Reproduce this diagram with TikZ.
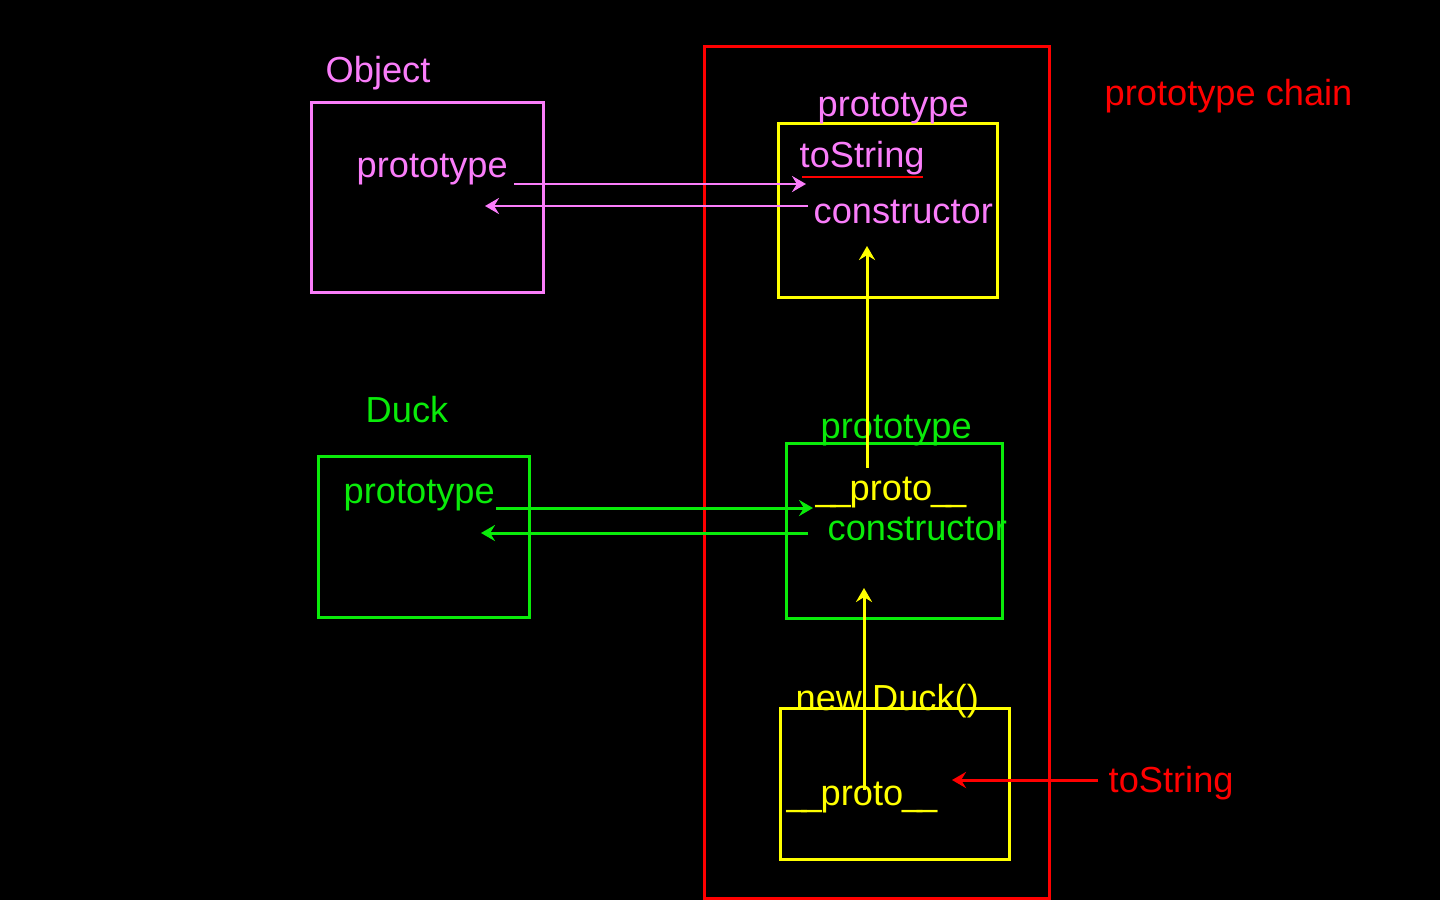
\documentclass[tikz,border=0pt]{standalone}
\usepackage{fontspec}
\setmainfont{Liberation Sans}
\usetikzlibrary{arrows.meta}

\definecolor{objpink}{RGB}{250,125,250}
\definecolor{duckgreen}{RGB}{10,235,10}
\definecolor{chainred}{RGB}{255,0,0}
\definecolor{instyellow}{RGB}{255,255,0}

\newcommand{\protolink}{\_\kern-1.5pt\_\kern-0.3pt proto\kern-0.3pt\_\kern-1.5pt\_}

\begin{document}
\begin{tikzpicture}[x=0.01cm,y=-0.01cm,
    every node/.style={inner sep=0pt, anchor=base west, font=\fontsize{10.3}{12}\selectfont},
    frame/.style={draw, line width=0.9pt, minimum width=#1, anchor=north west},
    link/.style={line width=0.85pt, -{Stealth[length=4pt,width=4.6pt,inset=1.4pt]}}]

	\fill[black] (0,0) rectangle (1440,900); % background and page size

	% boxes
	\node[frame=2.32cm, draw=objpink, minimum height=1.90cm] (objbox) at (310,101) {};
	\node[frame=2.11cm, draw=duckgreen, minimum height=1.61cm] (duckbox) at (317,455) {};
	\node[frame=3.45cm, draw=chainred, minimum height=8.51cm] (chain) at (703,45) {};
	\node[frame=2.19cm, draw=instyellow, minimum height=1.74cm] (objproto) at (777,122) {};
	\node[frame=2.16cm, draw=duckgreen, minimum height=1.75cm] (duckproto) at (785,442) {};
	\node[frame=2.29cm, draw=instyellow, minimum height=1.51cm] (duck) at (779,707) {};

	% labels
	\node[text=objpink] (objname) at (325,82) {Object};
	\node[text=objpink] (objprop) at (356,177) {prototype};
	\node[text=duckgreen] (duckname) at (365,422) {Duck};
	\node[text=duckgreen] (duckprop) at (343,503) {prototype};
	\node[text=chainred] (chainname) at (1104,105) {prototype chain};

	\node[text=objpink] (objprotoname) at (817,116) {prototype};
	\node[text=objpink] (tostr) at (799,167) {toString};
	\node[text=objpink] (objctor) at (813,223) {constructor};

	\node[text=duckgreen] (duckprotoname) at (820,438) {prototype};
	\node[text=instyellow] (duckprotolink) at (815,500) {\protolink};
	\node[text=duckgreen] (duckctor) at (827,540) {constructor};

	\node[text=instyellow] (duckname2) at (795,710) {new Duck()};
	\node[text=instyellow] (ducklink) at (786,805) {\protolink};
	\node[text=chainred] (call) at (1108,792) {toString};

	% ends of the connectors
	\coordinate (a1) at (514,184); \coordinate (a2) at (806,184);
	\coordinate (b1) at (808,206); \coordinate (b2) at (485,206);
	\coordinate (c1) at (496,508); \coordinate (c2) at (813,508);
	\coordinate (d1) at (808,533); \coordinate (d2) at (481,533);
	\coordinate (e1) at (867,468); \coordinate (e2) at (867,246);
	\coordinate (f1) at (864,790); \coordinate (f2) at (864,588);
	\coordinate (g1) at (1098,780); \coordinate (g2) at (952,780);
	\coordinate (u1) at (802,177); \coordinate (u2) at (923,177);

	\draw[link, objpink] (a1) -- (a2);
	\draw[link, objpink] (b1) -- (b2);
	\draw[link, duckgreen] (c1) -- (c2);
	\draw[link, duckgreen] (d1) -- (d2);
	\draw[link, instyellow] (e1) -- (e2);
	\draw[link, instyellow] (f1) -- (f2);
	\draw[link, chainred] (g1) -- (g2);
	\draw[chainred, line width=0.85pt] (u1) -- (u2); % underline of toString

\end{tikzpicture}
\end{document}
